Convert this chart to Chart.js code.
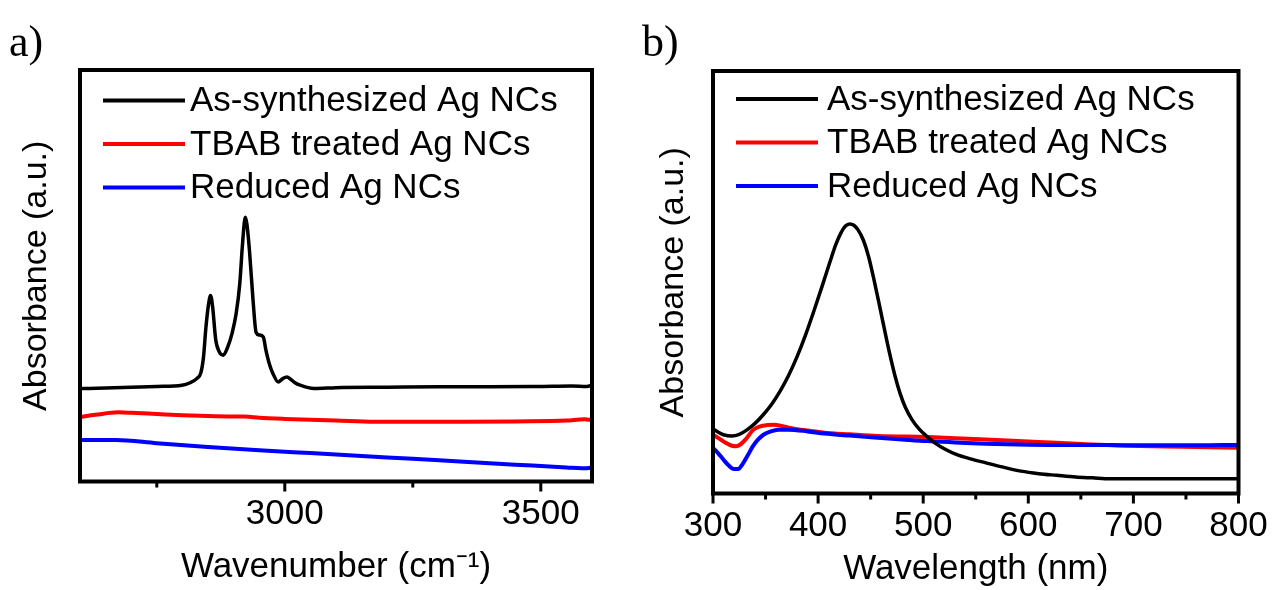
<!DOCTYPE html>
<html>
<head>
<meta charset="utf-8">
<script src="https://cdn.jsdelivr.net/npm/chart.js@4.4.0/dist/chart.umd.min.js"></script>
<style>
    body { margin: 0; background: #fff; width: 1275px; height: 590px; position: relative; overflow: hidden; }
    canvas { position: absolute; top: 0; }
    #chart_a { left: 0; }
    #chart_b { left: 640px; }
</style>
</head>
<body>
<canvas id="chart_a" width="640" height="590"></canvas>
<canvas id="chart_b" width="635" height="590"></canvas>
<script>
const seriesLabels = ['As-synthesized Ag NCs', 'TBAB treated Ag NCs', 'Reduced Ag NCs'];
const seriesColors = ['#000000', '#ff0000', '#0000ff'];

// a) FTIR, wavenumber in cm-1
const irWaveBlack = [2600, 2650, 2700, 2750, 2799, 2815, 2828, 2836, 2841, 2846, 2851, 2855, 2859, 2865, 2872, 2880, 2888, 2897, 2905, 2912, 2917, 2921, 2923, 2926, 2931, 2938, 2944, 2950, 2958, 2963, 2970, 2977, 2987, 2996, 3004, 3012, 3020, 3030, 3057, 3100, 3200, 3300, 3400, 3500, 3560, 3590, 3600];
const irAbsBlack = [0.226, 0.227, 0.229, 0.231, 0.234, 0.240, 0.250, 0.264, 0.300, 0.375, 0.430, 0.452, 0.425, 0.345, 0.315, 0.307, 0.325, 0.360, 0.408, 0.480, 0.570, 0.630, 0.642, 0.625, 0.561, 0.440, 0.362, 0.356, 0.351, 0.320, 0.285, 0.262, 0.242, 0.250, 0.254, 0.248, 0.240, 0.234, 0.226, 0.228, 0.229, 0.230, 0.230, 0.231, 0.232, 0.231, 0.234];
const irWaveRed = [2600, 2630, 2674, 2700, 2750, 2800, 2850, 2900, 2922, 2950, 3000, 3100, 3175, 3250, 3350, 3450, 3550, 3585, 3595, 3600];
const irAbsRed = [0.157, 0.162, 0.168, 0.167, 0.164, 0.161, 0.159, 0.158, 0.158, 0.155, 0.152, 0.148, 0.145, 0.145, 0.145, 0.146, 0.148, 0.151, 0.150, 0.153];
const irWaveBlue = [2600, 2670, 2750, 2850, 2950, 3050, 3150, 3250, 3350, 3450, 3550, 3580, 3595, 3600];
const irAbsBlue = [0.101, 0.101, 0.093, 0.084, 0.076, 0.069, 0.062, 0.055, 0.048, 0.041, 0.034, 0.032, 0.033, 0.036];
const irTicks = [2750, 3000, 3250, 3500];
const irTickLabels = [3000, 3500];

// b) UV-vis, wavelength in nm
const uvWaveBlack = [300, 305, 310, 318, 325, 332, 340, 348, 356, 364, 372, 380, 388, 396, 404, 411, 417, 422, 426, 430, 434, 438, 443, 448, 453, 458, 463, 468, 473, 478, 483, 489, 496, 504, 512, 520, 532, 545, 559, 575, 593, 610, 627, 645, 661, 678, 700, 750, 800];
const uvAbsBlack = [0.153, 0.145, 0.139, 0.136, 0.140, 0.150, 0.166, 0.187, 0.212, 0.243, 0.280, 0.324, 0.375, 0.432, 0.492, 0.546, 0.590, 0.618, 0.633, 0.638, 0.635, 0.624, 0.600, 0.561, 0.508, 0.450, 0.390, 0.332, 0.280, 0.237, 0.204, 0.176, 0.153, 0.134, 0.118, 0.106, 0.092, 0.082, 0.073, 0.063, 0.053, 0.047, 0.043, 0.039, 0.037, 0.035, 0.035, 0.035, 0.035];
const uvWaveRed = [300, 306, 312, 318, 322, 326, 331, 338, 345, 352, 358, 365, 372, 390, 406, 430, 457, 504, 530, 559, 590, 627, 660, 695, 730, 760, 800];
const uvAbsRed = [0.139, 0.130, 0.120, 0.113, 0.112, 0.116, 0.128, 0.150, 0.159, 0.162, 0.163, 0.160, 0.156, 0.149, 0.144, 0.140, 0.136, 0.134, 0.131, 0.128, 0.124, 0.120, 0.116, 0.113, 0.111, 0.110, 0.108];
const uvWaveBlue = [300, 305, 310, 315, 320, 324, 328, 333, 338, 343, 348, 355, 362, 372, 390, 406, 430, 457, 480, 504, 530, 559, 590, 627, 660, 695, 730, 760, 800];
const uvAbsBlue = [0.108, 0.095, 0.080, 0.066, 0.058, 0.058, 0.069, 0.090, 0.112, 0.128, 0.139, 0.147, 0.151, 0.151, 0.147, 0.142, 0.137, 0.132, 0.128, 0.124, 0.121, 0.118, 0.116, 0.115, 0.115, 0.114, 0.114, 0.114, 0.115];
const uvTicks = [300, 350, 400, 450, 500, 550, 600, 650, 700, 750, 800];
const uvTickLabels = [300, 400, 500, 600, 700, 800];

const FONT = '"Liberation Sans", Arial, sans-serif';
Chart.defaults.font.family = FONT;
Chart.defaults.color = '#000';

function toPoints(xs, ys) {
    return xs.map((x, i) => ({ x: x, y: ys[i] }));
}

function makeDataset(index, xs, ys, width, order) {
    return {
        label: seriesLabels[index],
        data: toPoints(xs, ys),
        borderColor: seriesColors[index],
        backgroundColor: seriesColors[index],
        borderWidth: width,
        pointRadius: 0,
        cubicInterpolationMode: 'monotone',
        order: order
    };
}

// plot frame, outward tick marks, legend inside the frame and panel letter
const panelDecor = {
    id: 'panelDecor',
    afterDatasetsDraw(chart, args, opts) {
        const { ctx, chartArea } = chart;
        const xScale = chart.scales.x;
        ctx.save();
        ctx.strokeStyle = '#000';
        ctx.lineWidth = 4;
        ctx.strokeRect(chartArea.left, chartArea.top, chartArea.right - chartArea.left, chartArea.bottom - chartArea.top);

        ctx.lineWidth = 3;
        opts.ticks.forEach(v => {
            const x = xScale.getPixelForValue(v);
            const len = opts.labelled.includes(v) ? 10 : 6;
            ctx.beginPath();
            ctx.moveTo(x, chartArea.bottom);
            ctx.lineTo(x, chartArea.bottom + len);
            ctx.stroke();
        });

        ctx.font = '35px ' + FONT;
        ctx.textBaseline = 'middle';
        ctx.textAlign = 'left';
        chart.data.datasets.forEach((ds, i) => {
            const y = opts.legendTop + i * opts.legendGap;
            ctx.strokeStyle = ds.borderColor;
            ctx.lineWidth = 4;
            ctx.beginPath();
            ctx.moveTo(opts.lineStart, y);
            ctx.lineTo(opts.lineEnd, y);
            ctx.stroke();
            ctx.fillStyle = '#000';
            ctx.fillText(ds.label, opts.textX, y + 1);
        });

        ctx.font = '44px "Liberation Serif", "Times New Roman", serif';
        ctx.textBaseline = 'alphabetic';
        ctx.fillText(opts.letter, opts.letterX, opts.letterY);
        ctx.restore();
    }
};

function makeChart(id, cfg) {
    const ctx = document.getElementById(id).getContext('2d');
    return new Chart(ctx, {
        type: 'line',
        data: { datasets: cfg.datasets },
        options: {
            responsive: false,
            animation: false,
            devicePixelRatio: 1,
            layout: { padding: { top: cfg.top, right: cfg.right, left: 0, bottom: 0 } },
            plugins: {
                legend: { display: false },
                tooltip: { enabled: false },
                panelDecor: cfg.decor
            },
            scales: {
                x: {
                    type: 'linear',
                    min: cfg.xMin,
                    max: cfg.xMax,
                    grid: { display: false, drawTicks: false },
                    border: { display: false },
                    afterBuildTicks: scale => {
                        scale.ticks = cfg.tickLabels.map(v => ({ value: v }));
                    },
                    afterFit: scale => {
                        scale.height = cfg.xHeight;
                        scale.paddingLeft = 0;
                        scale.paddingRight = 0;
                    },
                    ticks: {
                        font: { size: 35 },
                        padding: cfg.tickPad,
                        maxRotation: 0,
                        autoSkip: false,
                        callback: v => String(v)
                    },
                    title: {
                        display: true,
                        text: cfg.xTitle,
                        font: { size: 35 },
                        padding: { top: 0, bottom: cfg.xTitlePad }
                    }
                },
                y: {
                    min: 0,
                    max: 1,
                    grid: { display: false, drawTicks: false },
                    border: { display: false },
                    ticks: { display: false },
                    afterFit: scale => { scale.width = cfg.yWidth; },
                    title: {
                        display: true,
                        text: 'Absorbance (a.u.)',
                        font: { size: 34 },
                        padding: { top: cfg.yTitlePad, bottom: 0 }
                    }
                }
            }
        },
        plugins: [panelDecor]
    });
}

makeChart('chart_a', {
    datasets: [
        makeDataset(0, irWaveBlack, irAbsBlack, 3.5, 0),
        makeDataset(1, irWaveRed, irAbsRed, 4, 2),
        makeDataset(2, irWaveBlue, irAbsBlue, 4, 1)
    ],
    xMin: 2600, xMax: 3600,
    tickLabels: irTickLabels,
    xTitle: 'Wavenumber (cm\u207B\u00B9)',
    top: 70, right: 48, yWidth: 80, xHeight: 108.5,
    tickPad: 12, xTitlePad: 2, yTitlePad: 16,
    decor: {
        ticks: irTicks, labelled: irTickLabels,
        legendTop: 100.5, legendGap: 43.5, lineStart: 103, lineEnd: 185, textX: 190,
        letter: 'a)', letterX: 9, letterY: 56
    }
});

makeChart('chart_b', {
    datasets: [
        makeDataset(0, uvWaveBlack, uvAbsBlack, 3.5, 0),
        makeDataset(1, uvWaveRed, uvAbsRed, 4, 2),
        makeDataset(2, uvWaveBlue, uvAbsBlue, 4, 1)
    ],
    xMin: 300, xMax: 800,
    tickLabels: uvTickLabels,
    xTitle: 'Wavelength (nm)',
    top: 71, right: 36.5, yWidth: 73, xHeight: 96.5,
    tickPad: 12, xTitlePad: 0, yTitlePad: 13,
    decor: {
        ticks: uvTicks, labelled: uvTickLabels,
        legendTop: 99, legendGap: 43.5, lineStart: 96, lineEnd: 178, textX: 187,
        letter: 'b)', letterX: 2, letterY: 56
    }
});
</script>
</body>
</html>
